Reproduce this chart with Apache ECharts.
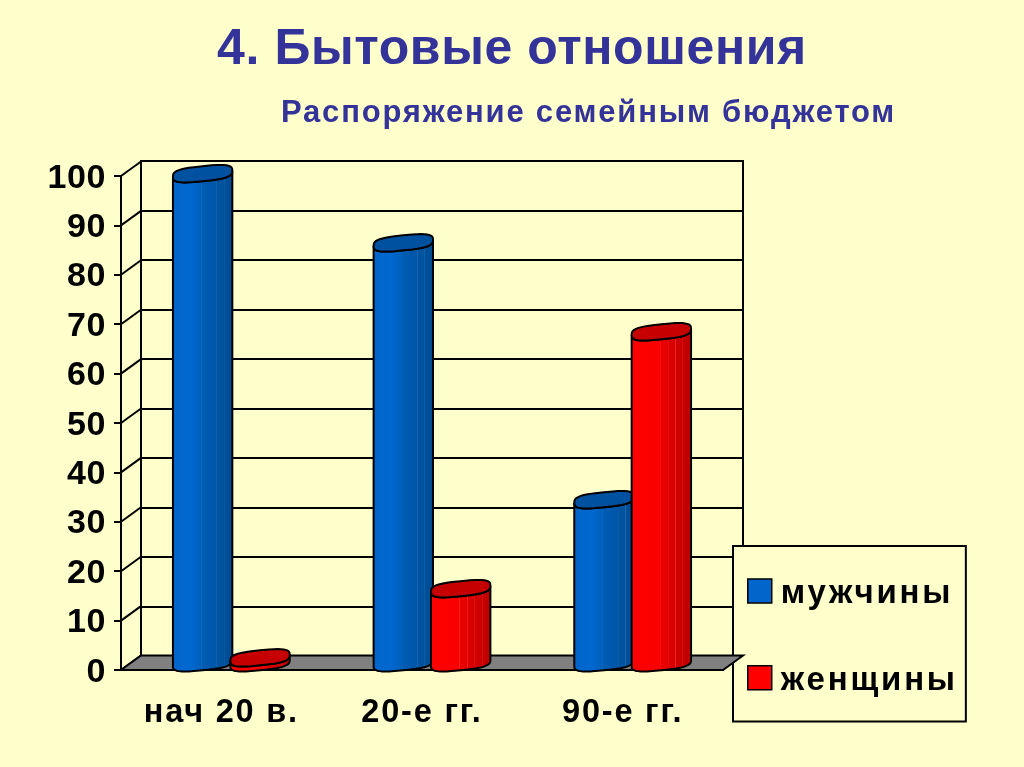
<!DOCTYPE html>
<html>
<head>
<meta charset="utf-8">
<style>html,body{margin:0;padding:0;background:#ffffcc}#c{width:1024px;height:767px}</style>
<script src="https://cdn.jsdelivr.net/npm/echarts@6/dist/echarts.min.js"></script>
</head>
<body>
<div id="c"></div>
<script>
const categories = ['нач 20 в.', '20-е гг.', '90-е гг.'];
const men = [99, 85, 33];
const women = [1, 15, 67];
const valueTicks = [0, 10, 20, 30, 40, 50, 60, 70, 80, 90, 100];
const FONT = '"Liberation Sans", Arial, sans-serif';
const DEPTH_X = 20, DEPTH_Y = -14.5;
const TITLE_SIZE = 50, SUBTITLE_SIZE = 31, VALUE_SIZE = 34, CATEGORY_SIZE = 32.5, LEGEND_SIZE = 33;
// The reference text is letter-spaced; ECharts has no option for it, so the canvas applies it per font size.
const tracking = { [TITLE_SIZE]: 0.6, [SUBTITLE_SIZE]: 1.8, [VALUE_SIZE]: 0.6, [CATEGORY_SIZE]: 1.8, [LEGEND_SIZE]: 2.8 };
(function () {
  const proto = CanvasRenderingContext2D.prototype;
  const d = Object.getOwnPropertyDescriptor(proto, 'font');
  Object.defineProperty(proto, 'font', {
    get() { return d.get.call(this); },
    set(v) {
      d.set.call(this, v);
      const m = /([\d.]+)px/.exec(String(v));
      const sp = m ? tracking[parseFloat(m[1])] : 0;
      if ('letterSpacing' in this) this.letterSpacing = (sp || 0) + 'px';
    }
  });
})();

function stops(list) {
  return { type: 'linear', x: 0, y: 0, x2: 1, y2: 0, global: false,
    colorStops: list.map(p => ({ offset: p[0], color: p[1] })) };
}
const blueBody = stops([[0,'#005cbc'],[0.06,'#0066cc'],[0.3,'#0068d0'],[0.47,'#0060bc'],[0.48,'#1068bc'],[0.49,'#005cb4'],[0.72,'#0056a8'],[0.73,'#1868b4'],[0.74,'#0054a0'],[0.84,'#00529c'],[0.85,'#1868ac'],[0.86,'#00509a'],[1,'#004a90']]);
const redBody = stops([[0,'#f40000'],[0.06,'#ff0000'],[0.47,'#fa0000'],[0.48,'#ff2020'],[0.49,'#ec0000'],[0.6,'#e40000'],[0.61,'#f02020'],[0.62,'#dc0000'],[0.72,'#d80000'],[0.73,'#e82020'],[0.74,'#d00000'],[0.84,'#cc0000'],[0.85,'#e02020'],[0.86,'#c80000'],[1,'#b80000']]);

function rim(cx, cy, a, from, to) {
  const pts = [], n = 40, b = 7.5, sh = 3, p = 0.65;
  for (let i = 0; i <= n; i++) {
    const t = from + (to - from) * i / n;
    const c = Math.cos(t), s = Math.sin(t);
    const u = Math.sign(c) * Math.pow(Math.abs(c), p);
    const v = Math.sign(s) * Math.pow(Math.abs(s), p);
    pts.push([cx + a * u, cy + b * v - sh * u]);
  }
  return pts;
}

function cylinder(shift, body, cap) {
  return function (params, api) {
    const top = api.coord([api.value(0), api.value(1)]);
    const base = api.coord([api.value(0), 0]);
    const band = api.size([1, 0])[0];
    const a = band * 0.148;
    const cx = top[0] + DEPTH_X / 2 + shift * band;
    const ty = top[1] + DEPTH_Y / 2;
    const by = base[1] + DEPTH_Y / 2;
    const outline = rim(cx, by, a, Math.PI, 0).concat(rim(cx, ty, a, 0, Math.PI));
    return { type: 'group', children: [
      { type: 'polygon', shape: { points: outline },
        style: { fill: body, stroke: '#000', lineWidth: 2 } },
      { type: 'polygon', shape: { points: rim(cx, ty, a, 0, Math.PI * 2) },
        style: { fill: cap, stroke: '#000', lineWidth: 2 } }
    ]};
  };
}

const chart = echarts.init(document.getElementById('c'));
chart.setOption({
  animation: false,
  backgroundColor: '#ffffcc',
  title: [
    { text: '4. Бытовые отношения', left: 217, top: 25, padding: 0,
      textStyle: { fontFamily: FONT, fontWeight: 'bold', fontSize: TITLE_SIZE, color: '#333399' } },
    { text: 'Распоряжение семейным бюджетом', left: 281, top: 97, padding: 0,
      textStyle: { fontFamily: FONT, fontWeight: 'bold', fontSize: SUBTITLE_SIZE, color: '#333399' } }
  ],
  legend: {
    left: 733, top: 546, orient: 'vertical',
    data: ['мужчины', 'женщины'],
    padding: [24, 8, 23, 14],
    itemWidth: 24, itemHeight: 24, itemGap: 45, itemStyle: { borderColor: '#000', borderWidth: 1.5 },
    backgroundColor: '#ffffcc', borderColor: '#000', borderWidth: 2,
    selectedMode: false, icon: 'rect', z: 4,
    formatter: '{a|{name}}',
    textStyle: { width: 178,
      rich: { a: { fontFamily: FONT, fontWeight: 'bold', fontSize: LEGEND_SIZE, lineHeight: 24, color: '#000', padding: [6, 0, 0, 4] } } }
  },
  grid: [
    { left: 121, right: 301, top: 176, bottom: 97 },
    { left: 141, right: 281, top: 161, bottom: 111, show: true, borderColor: '#000', borderWidth: 2, backgroundColor: 'transparent' }
  ],
  xAxis: [
    { type: 'category', gridIndex: 0, data: categories,
      axisLine: { lineStyle: { color: '#000', width: 2 } },
      axisTick: { length: 7, lineStyle: { color: '#000', width: 2 } },
      axisLabel: { interval: 0, hideOverlap: false, margin: 26, color: '#000', fontFamily: FONT, fontWeight: 'bold', fontSize: CATEGORY_SIZE } },
    { type: 'category', gridIndex: 1, data: categories, show: false }
  ],
  yAxis: [
    { type: 'value', gridIndex: 0, min: 0, max: 100, interval: 10,
      axisLine: { show: true, lineStyle: { color: '#000', width: 2 } },
      axisTick: { show: true, length: 7, lineStyle: { color: '#000', width: 2 } },
      splitLine: { show: false },
      axisLabel: { margin: 15, verticalAlign: 'top', padding: [-15, 0, 0, 0], color: '#000', fontFamily: FONT, fontWeight: 'bold', fontSize: VALUE_SIZE } },
    { type: 'value', gridIndex: 1, min: 0, max: 100, interval: 10,
      axisLine: { show: false }, axisTick: { show: false }, axisLabel: { show: false },
      splitLine: { show: true, lineStyle: { color: '#000', width: 2 } } }
  ],
  series: [
    { name: 'walls', type: 'custom', xAxisIndex: 0, yAxisIndex: 0, z: 3, silent: true, clip: false,
      data: valueTicks.map(v => [0, v]), encode: { x: 0, y: 1 },
      renderItem(params, api) {
        const x = params.coordSys.x;
        const y = api.coord([0, api.value(1)])[1];
        return { type: 'line', shape: { x1: x, y1: y, x2: x + DEPTH_X, y2: y + DEPTH_Y },
          style: { stroke: '#000', lineWidth: 2 } };
      } },
    { name: 'floor', type: 'custom', xAxisIndex: 0, yAxisIndex: 0, z: 5, silent: true, clip: false,
      data: [[0, 0]], encode: { x: 0, y: 1 },
      renderItem(params) {
        const c = params.coordSys, b = c.y + c.height;
        return { type: 'polygon', shape: { points: [[c.x, b], [c.x + c.width, b],
          [c.x + c.width + DEPTH_X, b + DEPTH_Y], [c.x + DEPTH_X, b + DEPTH_Y]] },
          style: { fill: '#808080', stroke: '#000', lineWidth: 2 } };
      } },
    { name: 'мужчины', type: 'custom', xAxisIndex: 0, yAxisIndex: 0, z: 6, clip: false,
      itemStyle: { color: '#0066cc' },
      data: men.map((v, i) => [i, v]), encode: { x: 0, y: 1 },
      renderItem: cylinder(-0.143, blueBody, '#00519f') },
    { name: 'женщины', type: 'custom', xAxisIndex: 0, yAxisIndex: 0, z: 7, clip: false,
      itemStyle: { color: '#ff0000' },
      data: women.map((v, i) => [i, v]), encode: { x: 0, y: 1 },
      renderItem: cylinder(0.143, redBody, '#c60000') }
  ]
});
</script>
</body>
</html>
